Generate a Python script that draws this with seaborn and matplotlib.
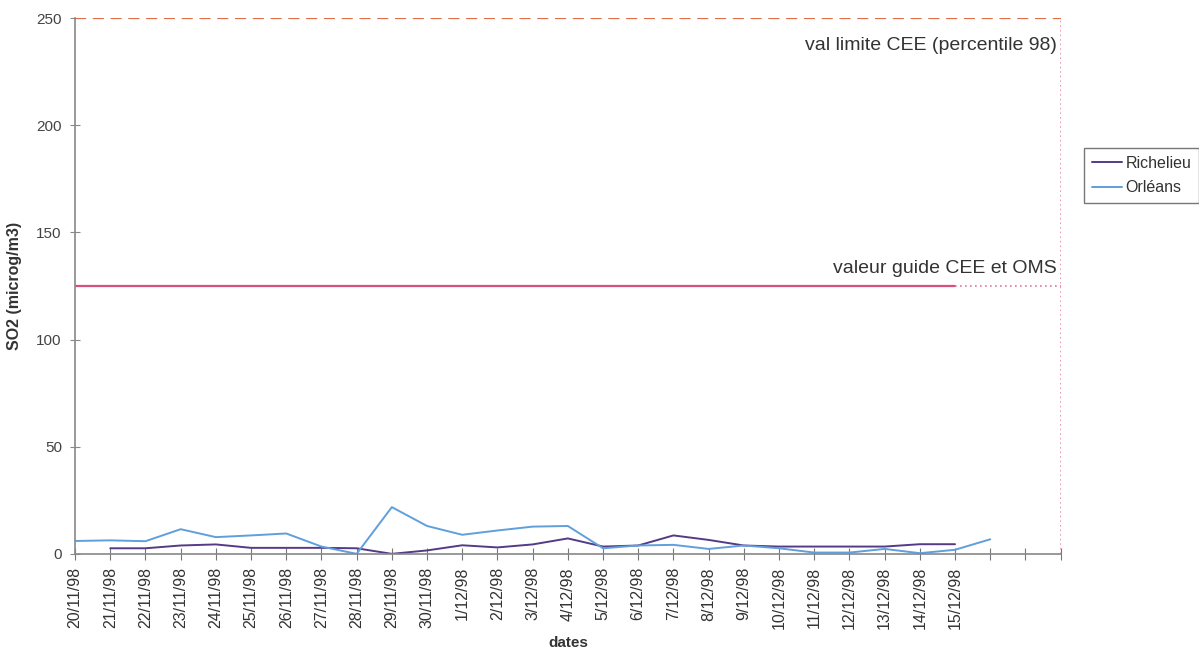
import matplotlib
matplotlib.use('Agg')
import numpy as np
import pandas as pd
import matplotlib.pyplot as plt
import seaborn as sns

# Données SO2 (microg/m3)
dates = ['20/11/98', '21/11/98', '22/11/98', '23/11/98', '24/11/98', '25/11/98',
         '26/11/98', '27/11/98', '28/11/98', '29/11/98', '30/11/98', '1/12/98',
         '2/12/98', '3/12/98', '4/12/98', '5/12/98', '6/12/98', '7/12/98',
         '8/12/98', '9/12/98', '10/12/98', '11/12/98', '12/12/98', '13/12/98',
         '14/12/98', '15/12/98']
n_positions = 29  # 26 dates + 3 catégories vides en fin d'axe

richelieu = [np.nan, 2.6, 2.6, 3.9, 4.4, 2.8, 2.8, 2.8, 2.6, 0.0, 1.6, 4.0, 3.0,
             4.4, 7.2, 3.4, 3.9, 8.6, 6.5, 3.9, 3.4, 3.4, 3.4, 3.4, 4.5, 4.5]
orleans = [6.0, 6.3, 5.9, 11.5, 7.8, 8.6, 9.5, 3.4, 0.0, 21.8, 13.0, 8.9, 10.9,
           12.7, 13.0, 2.6, 3.9, 4.2, 2.3, 3.9, 2.6, 0.6, 0.6, 2.3, 0.3, 1.9, 6.8]

valeur_guide = 125
val_limite = 250

# Mise en forme longue pour seaborn
rows = []
for i, v in enumerate(richelieu):
    if not np.isnan(v):
        rows.append({'pos': i, 'so2': v, 'station': 'Richelieu'})
for i, v in enumerate(orleans):
    rows.append({'pos': i, 'so2': v, 'station': 'Orléans'})
df = pd.DataFrame(rows)

sns.set_style('white')
plt.rcParams['font.family'] = ['Liberation Sans', 'DejaVu Sans']

fig = plt.figure(figsize=(11.99, 6.57), dpi=100)
ax = fig.add_axes([0.0626, 0.157, 0.822, 0.8156])

sns.lineplot(data=df, x='pos', y='so2', hue='station',
             palette={'Richelieu': '#553a86', 'Orléans': '#5f9fdc'},
             linewidth=1.4, ax=ax, legend=True, estimator=None)

# Lignes de référence
last_date = len(dates) - 1
last_pos = n_positions - 1
ax.plot([0, last_date], [valeur_guide, valeur_guide], color='#d9507a', lw=1.6)
ax.plot([last_date, last_pos], [valeur_guide, valeur_guide], color='#e07a98',
        lw=1.2, ls=(0, (1, 2)))
ax.plot([0, last_pos], [val_limite, val_limite], color='#e0704a', lw=1.6,
        ls=(0, (5, 3)))
ax.axvline(last_pos, color='#e07a98', lw=1.1, ls=(0, (1, 2)))

ax.text(last_pos - 0.1, 237, 'val limite CEE (percentile 98)', ha='right',
        va='center', fontsize=14, color='#333333')
ax.text(last_pos - 0.1, 133, 'valeur guide CEE et OMS', ha='right',
        va='center', fontsize=14, color='#333333')

ax.set_xlim(0, last_pos)
ax.set_ylim(0, 250)
ax.set_xticks(range(n_positions))
ax.set_xticklabels(dates + [''] * (n_positions - len(dates)), rotation=90,
                   fontsize=11.5, color='#333333')
ax.set_yticks([0, 50, 100, 150, 200, 250])
ax.tick_params(axis='y', left=True, labelsize=11, labelcolor='#444444',
               length=7, direction='inout', color='#888888', pad=6)
ax.tick_params(axis='x', bottom=True, length=9, direction='inout',
               color='#777777', pad=5)

ax.set_xlabel('dates', fontsize=11, fontweight='bold', color='#333333',
              labelpad=5)
ax.set_ylabel('SO2 (microg/m3)', fontsize=11.5, fontweight='bold',
              color='#333333', labelpad=10)

for side in ['top', 'right']:
    ax.spines[side].set_visible(False)
for side in ['left', 'bottom']:
    ax.spines[side].set_color('#888888')
    ax.spines[side].set_linewidth(1.2)

handles, labels = ax.get_legend_handles_labels()
leg = ax.legend(handles, labels, loc='upper left',
                bbox_to_anchor=(0.904, 0.775), bbox_transform=fig.transFigure,
                fontsize=11.5, frameon=True, fancybox=False, handlelength=1.9,
                borderpad=0.5, labelspacing=0.6, handletextpad=0.2,
                borderaxespad=0)
leg.get_frame().set_edgecolor('#555555')
leg.get_frame().set_linewidth(1.0)
for t in leg.get_texts():
    t.set_color('#333333')

fig.savefig('out.png', dpi=100)
plt.close(fig)
